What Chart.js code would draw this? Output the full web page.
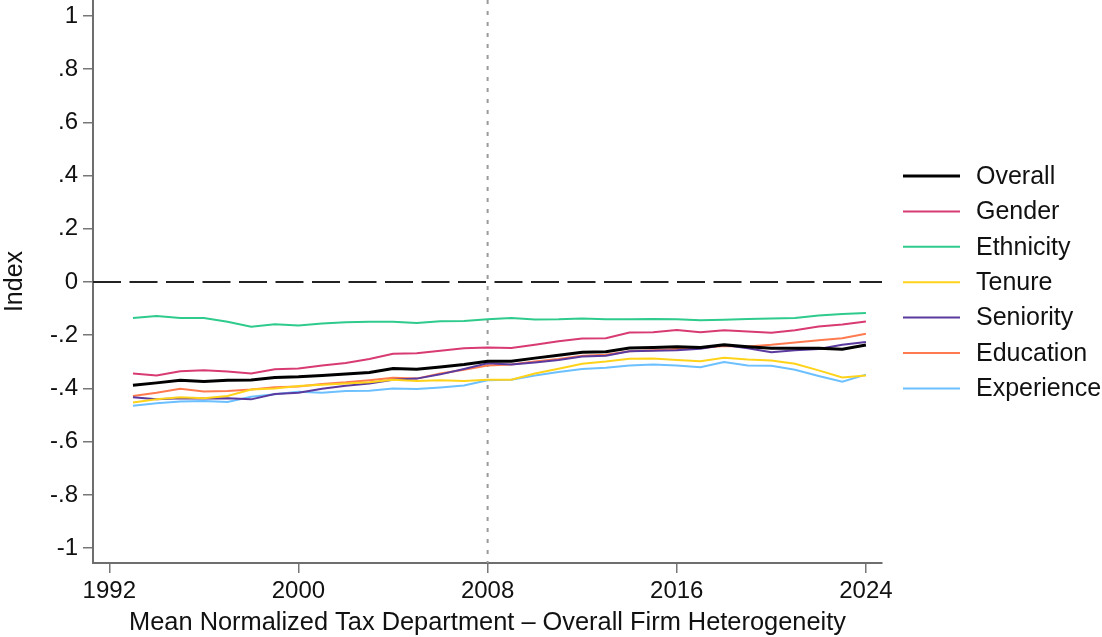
<!DOCTYPE html>
<html>
<head>
<meta charset="utf-8">
<script src="https://cdn.jsdelivr.net/npm/chart.js@4/dist/chart.umd.min.js"></script>
<style>
  html, body { margin: 0; padding: 0; background: #fff; }
  #wrap { width: 1102px; height: 637px; }
</style>
</head>
<body>
<div id="wrap"><canvas id="c" width="1102" height="637"></canvas></div>
<script>
// Yearly heterogeneity indices, 1993-2024
const years = [1993,1994,1995,1996,1997,1998,1999,2000,2001,2002,2003,2004,2005,2006,2007,2008,
               2009,2010,2011,2012,2013,2014,2015,2016,2017,2018,2019,2020,2021,2022,2023,2024];

const overall = [-0.388,-0.379,-0.369,-0.374,-0.369,-0.368,-0.359,-0.356,-0.351,-0.346,-0.340,-0.325,-0.328,-0.319,-0.310,-0.298,
                 -0.298,-0.286,-0.275,-0.264,-0.262,-0.248,-0.246,-0.243,-0.246,-0.236,-0.243,-0.249,-0.249,-0.249,-0.253,-0.237];
const gender = [-0.344,-0.351,-0.335,-0.332,-0.336,-0.344,-0.328,-0.325,-0.314,-0.304,-0.289,-0.270,-0.268,-0.258,-0.249,-0.246,
                -0.248,-0.236,-0.223,-0.212,-0.211,-0.190,-0.189,-0.180,-0.189,-0.181,-0.186,-0.191,-0.181,-0.167,-0.160,-0.148];
const ethnicity = [-0.135,-0.128,-0.135,-0.135,-0.149,-0.168,-0.159,-0.163,-0.156,-0.151,-0.149,-0.149,-0.154,-0.147,-0.146,-0.140,
                   -0.135,-0.141,-0.140,-0.137,-0.140,-0.140,-0.139,-0.140,-0.144,-0.142,-0.139,-0.137,-0.135,-0.126,-0.120,-0.116];
const tenure = [-0.453,-0.441,-0.433,-0.437,-0.428,-0.404,-0.400,-0.391,-0.386,-0.381,-0.377,-0.367,-0.372,-0.369,-0.372,-0.367,
                -0.367,-0.344,-0.326,-0.307,-0.299,-0.288,-0.287,-0.293,-0.298,-0.285,-0.291,-0.295,-0.307,-0.332,-0.359,-0.351];
const seniority = [-0.433,-0.441,-0.437,-0.438,-0.437,-0.441,-0.421,-0.416,-0.401,-0.390,-0.381,-0.367,-0.363,-0.347,-0.327,-0.305,
                   -0.310,-0.302,-0.293,-0.280,-0.277,-0.260,-0.258,-0.256,-0.251,-0.237,-0.249,-0.264,-0.256,-0.252,-0.236,-0.225];
const education = [-0.428,-0.416,-0.401,-0.411,-0.410,-0.404,-0.395,-0.393,-0.383,-0.377,-0.369,-0.360,-0.363,-0.344,-0.330,-0.314,
                   -0.310,-0.299,-0.289,-0.277,-0.273,-0.260,-0.256,-0.252,-0.248,-0.240,-0.242,-0.236,-0.227,-0.219,-0.211,-0.194];
const experience = [-0.465,-0.456,-0.449,-0.447,-0.451,-0.431,-0.422,-0.412,-0.416,-0.410,-0.409,-0.400,-0.402,-0.396,-0.389,-0.369,
                    -0.367,-0.351,-0.338,-0.327,-0.322,-0.314,-0.310,-0.314,-0.320,-0.301,-0.314,-0.315,-0.330,-0.353,-0.375,-0.348];

const seriesNames = ['Overall','Gender','Ethnicity','Tenure','Seniority','Education','Experience'];
const seriesValues = [overall, gender, ethnicity, tenure, seniority, education, experience];
const seriesColors = ['#000000','#d83a72','#2ecb8c','#ffd31a','#5a3a9e','#ff7b4f','#6cc0ff'];
const seriesWidths = [3, 2, 2, 2, 2, 2, 2];

const xTicks = [1992, 2000, 2008, 2016, 2024];
const yTicks = [-1, -0.8, -0.6, -0.4, -0.2, 0, 0.2, 0.4, 0.6, 0.8, 1];
const markerYear = 2008;

const FONT = '"Liberation Sans", Arial, Helvetica, sans-serif';

function fmtTick(v) {
  if (Math.abs(v) < 1e-9) return '0';
  if (Math.abs(Math.abs(v) - 1) < 1e-9) return v < 0 ? '-1' : '1';
  const s = Math.abs(v).toFixed(1).replace(/^0/, '');
  return (v < 0 ? '-' : '') + s;
}

const datasets = seriesNames.map((name, i) => ({
  label: name,
  data: years.map((yr, j) => ({ x: yr, y: seriesValues[i][j] })),
  borderColor: seriesColors[i],
  backgroundColor: seriesColors[i],
  borderWidth: seriesWidths[i],
  pointRadius: 0,
  tension: 0,
  fill: false
}));

// Reference lines: dashed zero line and dotted vertical marker
const refLines = {
  id: 'refLines',
  beforeDatasetsDraw(chart) {
    const { ctx, chartArea, scales } = chart;
    ctx.save();
    const y0 = scales.y.getPixelForValue(0);
    ctx.strokeStyle = '#222';
    ctx.lineWidth = 2;
    ctx.setLineDash([28, 8.5]);
    ctx.beginPath();
    ctx.moveTo(chartArea.left, y0);
    ctx.lineTo(chartArea.right, y0);
    ctx.stroke();
    const xm = scales.x.getPixelForValue(markerYear);
    ctx.strokeStyle = '#9a9a9a';
    ctx.lineWidth = 2;
    ctx.setLineDash([4, 7]);
    ctx.beginPath();
    ctx.moveTo(xm, chartArea.top);
    ctx.lineTo(xm, chartArea.bottom);
    ctx.stroke();
    ctx.restore();
  }
};

// Legend on the right: line sample + series name
const sideLegend = {
  id: 'sideLegend',
  afterDraw(chart) {
    const { ctx } = chart;
    ctx.save();
    ctx.font = '25px ' + FONT;
    ctx.textBaseline = 'middle';
    ctx.textAlign = 'left';
    chart.data.datasets.forEach((ds, i) => {
      const y = 176 + i * 35.4;
      ctx.strokeStyle = ds.borderColor;
      ctx.lineWidth = ds.borderWidth;
      ctx.setLineDash([]);
      ctx.beginPath();
      ctx.moveTo(903, y);
      ctx.lineTo(960, y);
      ctx.stroke();
      ctx.fillStyle = '#111';
      ctx.fillText(ds.label, 976, y + 1);
    });
    ctx.restore();
  }
};

new Chart(document.getElementById('c'), {
  type: 'line',
  data: { datasets },
  plugins: [refLines, sideLegend],
  options: {
    responsive: false,
    animation: false,
    events: [],
    layout: { padding: { top: 0, left: 0, bottom: 0, right: 220 } },
    plugins: { legend: { display: false }, tooltip: { enabled: false } },
    scales: {
      x: {
        type: 'linear',
        min: 1991.31,
        max: 2024.68,
        afterBuildTicks(scale) { scale.ticks = xTicks.map(v => ({ value: v })); },
        afterFit(scale) { scale.height = 74; scale.paddingLeft = 0; scale.paddingRight = 0; },
        ticks: {
          autoSkip: false, maxRotation: 0, minRotation: 0,
          color: '#111', padding: 4,
          font: { family: FONT, size: 24 },
          callback: v => String(v)
        },
        grid: { drawOnChartArea: false, drawTicks: true, tickLength: 10, tickColor: '#777', lineWidth: 1.5 },
        border: { display: true, color: '#6e6e6e', width: 2 },
        title: {
          display: true,
          text: 'Mean Normalized Tax Department \u2013 Overall Firm Heterogeneity',
          color: '#111',
          font: { family: FONT, size: 25.4, lineHeight: 1 },
          padding: { top: 0, bottom: 1 }
        }
      },
      y: {
        type: 'linear',
        min: -1.056,
        max: 1.06,
        afterBuildTicks(scale) { scale.ticks = yTicks.map(v => ({ value: v })); },
        afterFit(scale) { scale.width = 93; scale.paddingTop = 0; scale.paddingBottom = 0; },
        ticks: {
          color: '#111', padding: 5,
          font: { family: FONT, size: 24 },
          callback: v => fmtTick(v)
        },
        grid: { drawOnChartArea: false, drawTicks: true, tickLength: 10, tickColor: '#777', lineWidth: 1.5 },
        border: { display: true, color: '#6e6e6e', width: 2 },
        title: {
          display: true,
          text: 'Index',
          color: '#111',
          font: { family: FONT, size: 25, lineHeight: 1 },
          padding: { top: 2.5, bottom: 0 }
        }
      }
    }
  }
});
</script>
</body>
</html>
